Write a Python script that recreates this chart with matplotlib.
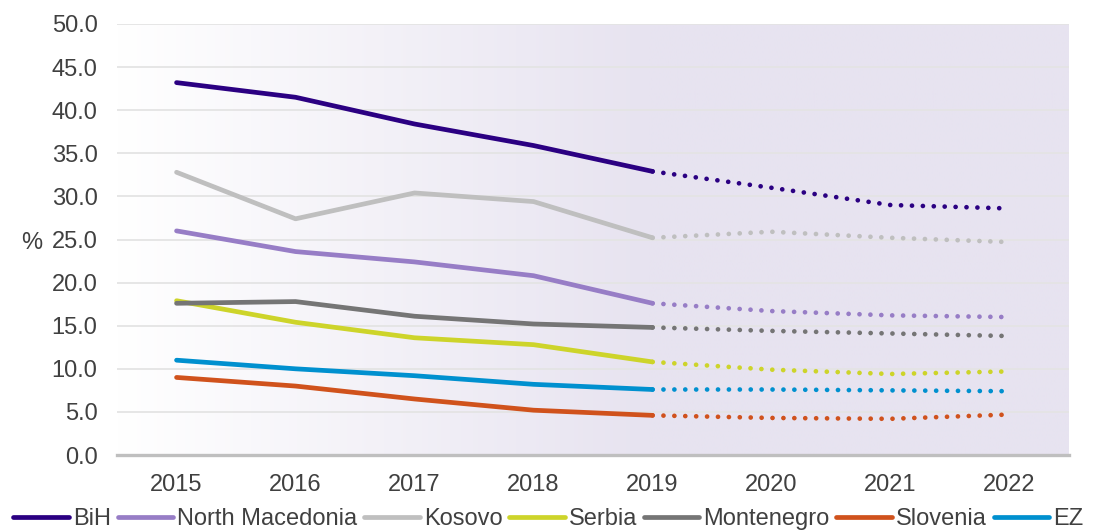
import matplotlib.pyplot as plt
import numpy as np
from matplotlib.colors import LinearSegmentedColormap

years = ["2015", "2016", "2017", "2018", "2019", "2020", "2021", "2022"]
bih = [43.2, 41.5, 38.4, 35.9, 32.9, 31.0, 29.0, 28.6]
north_macedonia = [26.0, 23.6, 22.4, 20.8, 17.6, 16.7, 16.2, 16.0]
kosovo = [32.8, 27.4, 30.4, 29.4, 25.2, 25.9, 25.2, 24.7]
serbia = [17.9, 15.4, 13.6, 12.8, 10.8, 9.9, 9.4, 9.7]
montenegro = [17.6, 17.8, 16.1, 15.2, 14.8, 14.4, 14.1, 13.8]
slovenia = [9.0, 8.0, 6.5, 5.2, 4.6, 4.3, 4.2, 4.7]
ez = [11.0, 10.0, 9.2, 8.2, 7.6, 7.6, 7.5, 7.4]

series = [
    ("BiH", bih, "#2B0082"),
    ("North Macedonia", north_macedonia, "#977DC6"),
    ("Kosovo", kosovo, "#BFBFBF"),
    ("Serbia", serbia, "#CDD42A"),
    ("Montenegro", montenegro, "#757575"),
    ("Slovenia", slovenia, "#D0521C"),
    ("EZ", ez, "#0090CF"),
]

plt.rcParams["font.family"] = ["Liberation Sans", "DejaVu Sans"]

fig = plt.figure(figsize=(10.97, 5.32), dpi=100)
ax = fig.add_axes([0.1067, 0.1447, 0.8678, 0.8102])

x = np.arange(len(years))
split = 4  # last actual year index (2019)

# background: white on the left fading into lavender by 2019
cmap = LinearSegmentedColormap.from_list("bg", ["#FFFFFF", "#E7E3F0"])
grad = np.clip(np.linspace(0, 1, 400) / 0.56, 0, 1)
ax.imshow(grad[np.newaxis, :], cmap=cmap, aspect="auto", extent=(-0.5, 7.5, 0, 50),
          zorder=0, vmin=0, vmax=1, interpolation="bilinear")

lw = 3.4
for name, vals, color in series:
    ax.plot(x[:split + 1], vals[:split + 1], color=color, lw=lw,
            solid_capstyle="round", zorder=3, label=name)
    ax.plot(x[split:], vals[split:], color=color, lw=lw, zorder=3,
            linestyle=(0, (0.01, 2.3)), dash_capstyle="round")

ax.set_xlim(-0.5, 7.5)
ax.set_ylim(0, 50)
ax.set_yticks(np.arange(0, 50.1, 5))
ax.set_yticklabels([f"{v:.1f}" for v in np.arange(0, 50.1, 5)])
ax.set_xticks(x)
ax.set_xticklabels(years)
ax.grid(axis="y", color="#E4E4E4", lw=1.3, zorder=1)
ax.set_axisbelow(True)
ax.tick_params(length=0, labelsize=17, labelcolor="#404040", pad=14)

for side in ["top", "right", "left"]:
    ax.spines[side].set_visible(False)
ax.spines["bottom"].set_color("#BFBFBF")
ax.spines["bottom"].set_linewidth(2.4)
ax.spines["bottom"].set_zorder(4)

ax.set_ylabel("%", rotation=0, fontsize=17, color="#404040", va="center", ha="center")
ax.yaxis.set_label_coords(-0.09, 0.492)

fig.legend(loc="center", bbox_to_anchor=(0.5, 0.024), ncol=7, frameon=False,
           fontsize=17, labelcolor="#404040", handlelength=2.35, handletextpad=0.18,
           columnspacing=0.28, borderpad=0, borderaxespad=0)

fig.savefig("out.png", dpi=100)
